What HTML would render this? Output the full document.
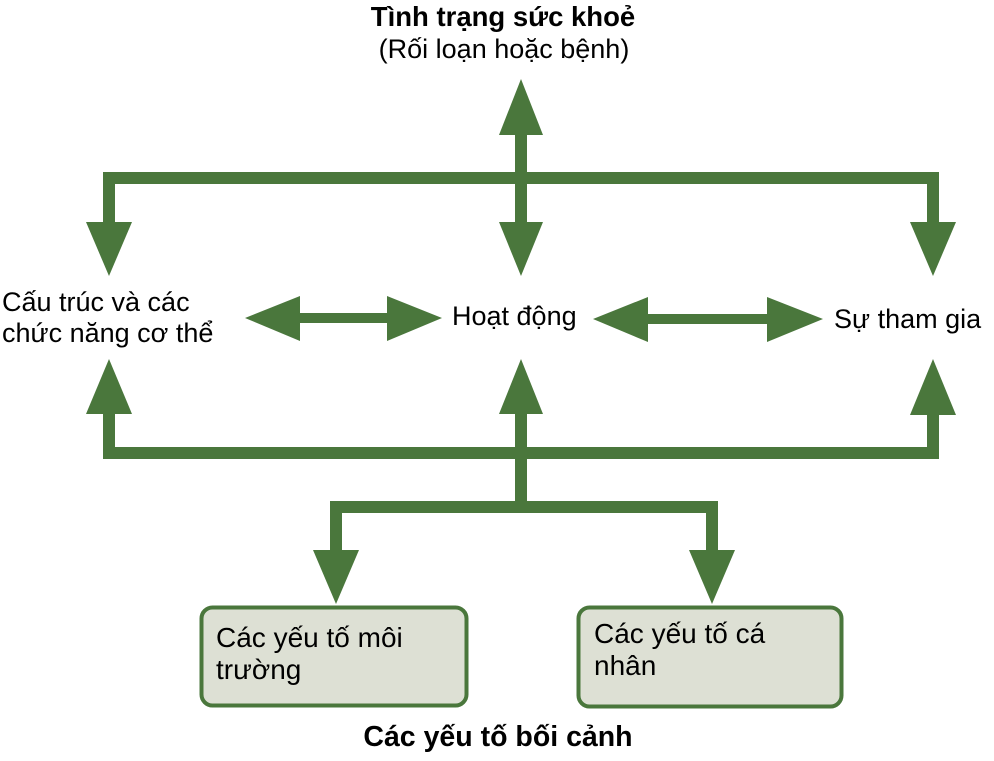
<!DOCTYPE html>
<html><head><meta charset="utf-8"><style>
html,body{margin:0;padding:0;background:#fff;}
svg{display:block;}
text{font-family:"Liberation Sans",Arial,sans-serif;fill:#000;}
</style></head><body>
<svg width="994" height="761" viewBox="0 0 994 761" xmlns="http://www.w3.org/2000/svg">
<g fill="#4a773c" stroke="none">
<rect x="103" y="172" width="836" height="12"/>
<rect x="103" y="172" width="12" height="52"/>
<polygon points="86,222 132,222 109,276"/>
<rect x="927" y="172" width="12" height="52"/>
<polygon points="910,222 956,222 933,276"/>
<rect x="515" y="130" width="12" height="95"/>
<polygon points="499,135 543,135 521,79"/>
<polygon points="499,222 543,222 521,276"/>
<rect x="295" y="313" width="95" height="10"/>
<polygon points="300,296 300,341 245,318"/>
<polygon points="387,296 387,341 442,318"/>
<rect x="645" y="314" width="125" height="10"/>
<polygon points="648,297 648,342 593,319"/>
<polygon points="767,297 767,342 823,319"/>
<rect x="103" y="447" width="836" height="12"/>
<rect x="103" y="410" width="12" height="49"/>
<polygon points="86,414 132,414 109,359"/>
<rect x="927" y="410" width="12" height="49"/>
<polygon points="910,415 956,415 933,359"/>
<rect x="515" y="410" width="12" height="100"/>
<polygon points="499,414 543,414 521,359"/>
<rect x="330" y="501" width="388" height="12"/>
<rect x="330" y="501" width="12" height="52"/>
<polygon points="313,550 359,550 336,604"/>
<rect x="706" y="501" width="12" height="52"/>
<polygon points="689,550 735,550 712,604"/>
</g>
<rect x="201.5" y="607.5" width="265" height="98" rx="11" fill="#dde0d4" stroke="#4a773c" stroke-width="4"/>
<rect x="578.5" y="607.5" width="263" height="99" rx="11" fill="#dde0d4" stroke="#4a773c" stroke-width="4"/>
<text x="503" y="26" font-size="27.5" font-weight="bold" text-anchor="middle">Tình trạng sức khoẻ</text>
<text x="504" y="58" font-size="27" text-anchor="middle">(Rối loạn hoặc bệnh)</text>
<text x="2" y="311" font-size="27">Cấu trúc và các</text>
<text x="2" y="342" font-size="27">chức năng cơ thể</text>
<text x="452" y="325" font-size="27">Hoạt động</text>
<text x="834" y="328" font-size="27">Sự tham gia</text>
<text x="216" y="647" font-size="28">Các yếu tố môi</text>
<text x="216" y="679" font-size="28">trường</text>
<text x="594" y="643" font-size="28">Các yếu tố cá</text>
<text x="594" y="675" font-size="28">nhân</text>
<text x="498" y="746" font-size="28.5" font-weight="bold" text-anchor="middle">Các yếu tố bối cảnh</text>
</svg>
</body></html>
